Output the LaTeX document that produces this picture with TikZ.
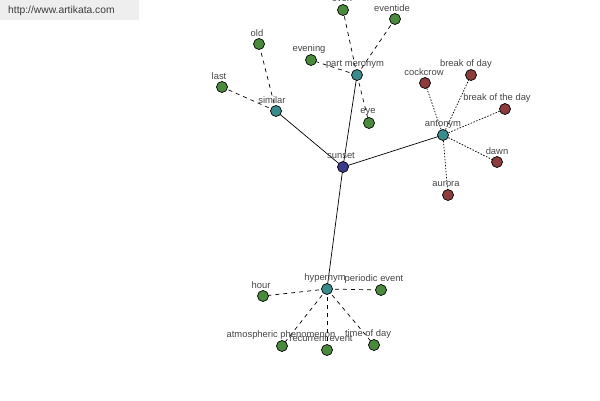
\documentclass[tikz,border=0pt]{standalone}
\usepackage{fontspec}
\setmainfont{Liberation Sans}
\definecolor{cgreen}{RGB}{74,138,60}
\definecolor{cteal}{RGB}{58,140,140}
\definecolor{cblue}{RGB}{60,60,140}
\definecolor{cred}{RGB}{140,60,60}
\definecolor{ctext}{RGB}{70,70,70}
\definecolor{cwm}{RGB}{238,238,238}
\definecolor{cwmtext}{RGB}{60,60,60}
\begin{document}
\begin{tikzpicture}[x=1pt,y=-1pt,
  vtx/.style={circle,draw=black,line width=0.7pt,minimum size=11pt,inner sep=0pt},
  gn/.style={vtx,fill=cgreen},
  tn/.style={vtx,fill=cteal},
  bn/.style={vtx,fill=cblue},
  rn/.style={vtx,fill=cred},
  lab/.style={inner sep=0pt,text=ctext,font=\fontsize{9.4}{10}\selectfont},
  solidedge/.style={draw=black,line width=0.7pt},
  dashedge/.style={draw=black,line width=0.7pt,dash pattern=on 4pt off 4pt},
  dotedge/.style={draw=black,line width=0.7pt,dash pattern=on 1.5pt off 1.5pt}]
\useasboundingbox (0,0) rectangle (600,400);
\fill[white] (0,0) rectangle (600,400);
\fill[cwm] (0,0) rectangle (139,20);
\node[lab,anchor=west,text=cwmtext,font=\fontsize{10.3}{11}\selectfont] (wm) at (8,11) {http://www.artikata.com};
% coordinates
\coordinate (csun) at (343,167);
\coordinate (csim) at (276,111);
\coordinate (cpm) at (357,75);
\coordinate (cant) at (443,135);
\coordinate (chyp) at (327,289);
\coordinate (cold) at (259,44);
\coordinate (clast) at (222,87);
\coordinate (ceveng) at (311,60);
\coordinate (ceven) at (343,10);
\coordinate (cetide) at (395,19);
\coordinate (ceye) at (369,123);
\coordinate (ccock) at (425,83);
\coordinate (cbod) at (471,75);
\coordinate (cbotd) at (505,109);
\coordinate (cdawn) at (497,162);
\coordinate (caur) at (448,195);
\coordinate (chour) at (263,296);
\coordinate (cper) at (381,290);
\coordinate (catm) at (282,346);
\coordinate (crec) at (327,350);
\coordinate (ctod) at (374,345);
% edges
\draw[solidedge] (csun) -- (csim);
\draw[solidedge] (csun) -- (cpm);
\draw[solidedge] (csun) -- (cant);
\draw[solidedge] (csun) -- (chyp);
\draw[dashedge] (csim) -- (cold);
\draw[dashedge] (csim) -- (clast);
\draw[dashedge] (cpm) -- (ceven);
\draw[dashedge] (cpm) -- (cetide);
\draw[dashedge] (cpm) -- (ceveng);
\draw[dashedge] (cpm) -- (ceye);
\draw[dotedge] (cant) -- (ccock);
\draw[dotedge] (cant) -- (cbod);
\draw[dotedge] (cant) -- (cbotd);
\draw[dotedge] (cant) -- (cdawn);
\draw[dotedge] (cant) -- (caur);
\draw[dashedge] (chyp) -- (chour);
\draw[dashedge] (chyp) -- (cper);
\draw[dashedge] (chyp) -- (catm);
\draw[dashedge] (chyp) -- (crec);
\draw[dashedge] (chyp) -- (ctod);
% nodes
\node[bn] (sun) at (csun) {};
\node[tn] (sim) at (csim) {};
\node[tn] (pm) at (cpm) {};
\node[tn] (ant) at (cant) {};
\node[tn] (hyp) at (chyp) {};
\node[gn] (old) at (cold) {};
\node[gn] (last) at (clast) {};
\node[gn] (eveng) at (ceveng) {};
\node[gn] (even) at (ceven) {};
\node[gn] (etide) at (cetide) {};
\node[gn] (eye) at (ceye) {};
\node[rn] (cock) at (ccock) {};
\node[rn] (bod) at (cbod) {};
\node[rn] (botd) at (cbotd) {};
\node[rn] (dawn) at (cdawn) {};
\node[rn] (aur) at (caur) {};
\node[gn] (hour) at (chour) {};
\node[gn] (per) at (cper) {};
\node[gn] (atm) at (catm) {};
\node[gn] (rec) at (crec) {};
\node[gn] (tod) at (ctod) {};
% labels
\node[lab] (lsun) at (341,156) {sunset};
\node[lab] (lsim) at (272,100) {similar};
\node[lab] (lpm) at (355,64) {part meronym};
\node[lab] (lant) at (443,124) {antonym};
\node[lab] (lhyp) at (325,278) {hypernym};
\node[lab] (lold) at (257,33) {old};
\node[lab] (llast) at (219,76) {last};
\node[lab] (leveng) at (309,49) {evening};
\node[lab] (leven) at (342,-1) {even};
\node[lab] (letide) at (392,8) {eventide};
\node[lab] (leye) at (368,112) {eye};
\node[lab] (lcock) at (424,72) {cockcrow};
\node[lab] (lbod) at (466,64) {break of day};
\node[lab] (lbotd) at (497,98) {break of the day};
\node[lab] (ldawn) at (497,151) {dawn};
\node[lab] (laur) at (446,184) {aurora};
\node[lab] (lhour) at (261,285) {hour};
\node[lab] (lper) at (374,279) {periodic event};
\node[lab] (latm) at (281,335) {atmospheric phenomenon};
\node[lab] (lrec) at (321,339) {recurrent event};
\node[lab] (ltod) at (368,334) {time of day};
\end{tikzpicture}
\end{document}
